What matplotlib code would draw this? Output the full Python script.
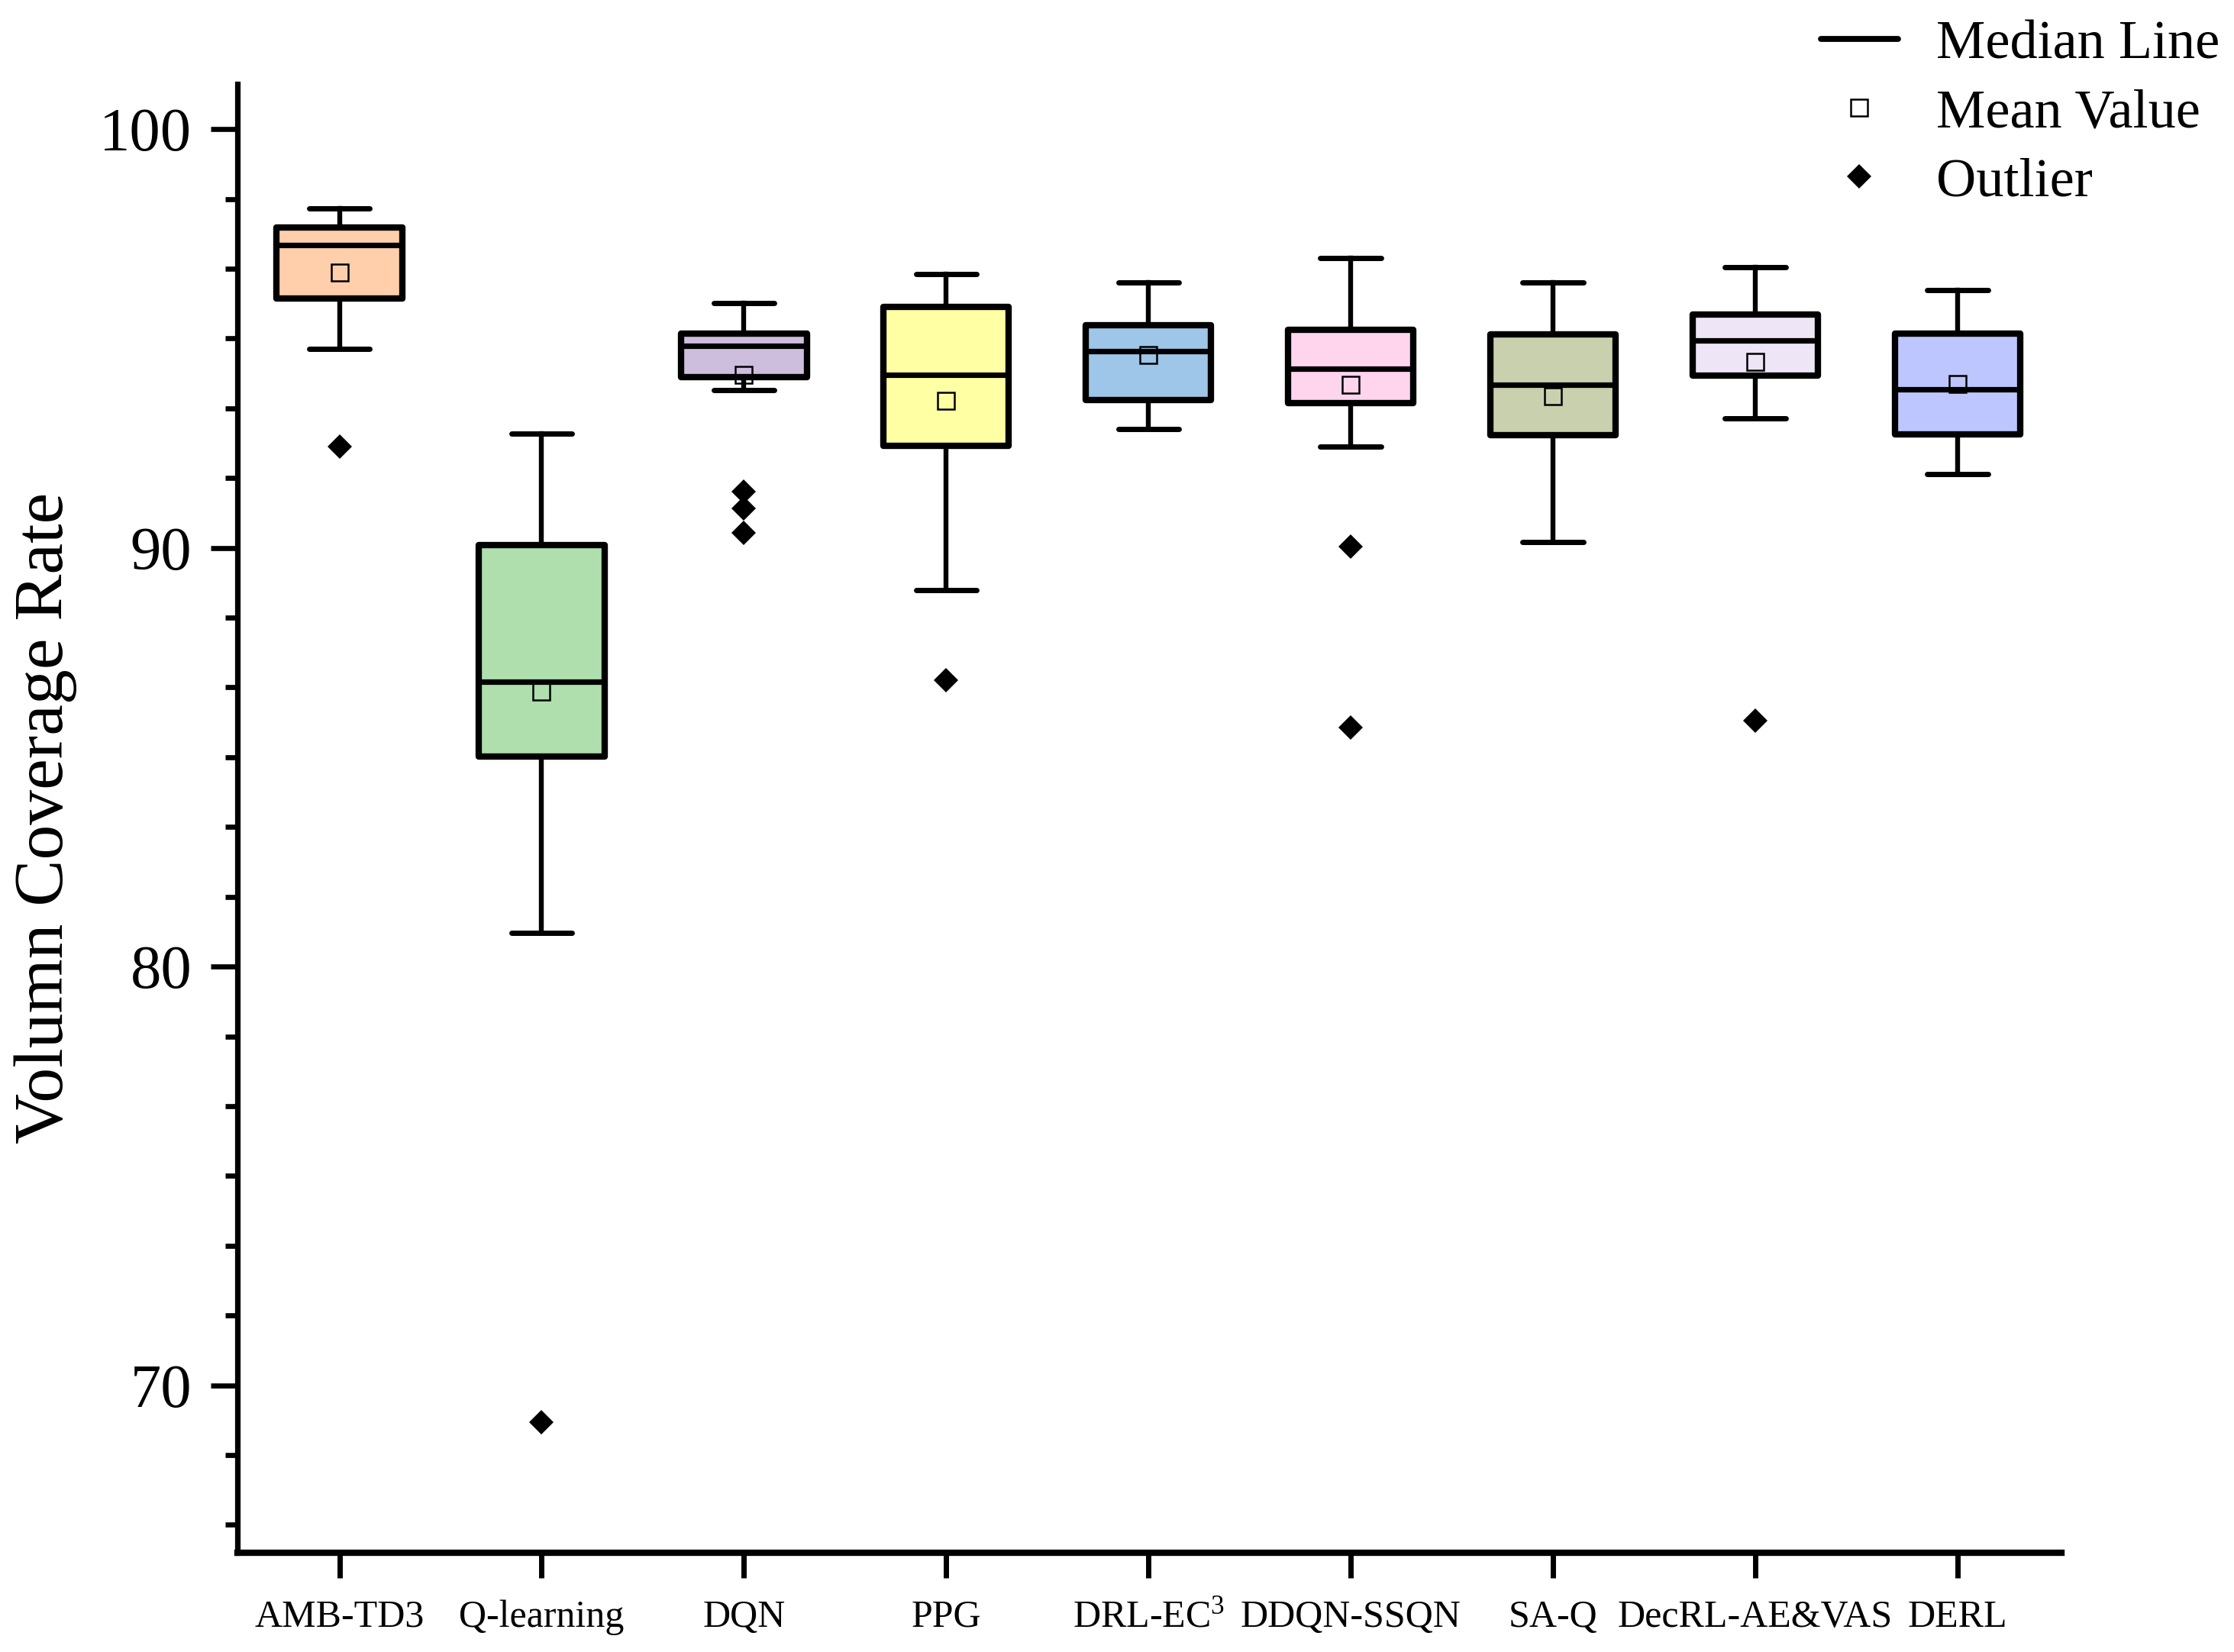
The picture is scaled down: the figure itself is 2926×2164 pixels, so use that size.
import matplotlib
matplotlib.use("Agg")
import matplotlib.pyplot as plt
from matplotlib.ticker import MultipleLocator
from matplotlib.lines import Line2D

plt.rcParams['font.family'] = ['Liberation Serif', 'DejaVu Serif']
plt.rcParams['mathtext.fontset'] = 'custom'
plt.rcParams['mathtext.rm'] = 'Liberation Serif'
plt.rcParams['mathtext.it'] = 'Liberation Serif:italic'

categories = ['AMB-TD3', 'Q-learning', 'DQN', 'PPG', r'DRL-EC$^{\mathrm{3}}$',
              'DDQN-SSQN', 'SA-Q', 'DecRL-AE&VAS', 'DERL']
whisker_low = [94.76, 80.80, 93.77, 88.99, 92.83, 92.42, 90.14, 93.09, 91.77]
q1          = [95.96, 85.02, 94.07, 92.44, 93.53, 93.46, 92.69, 94.11, 92.71]
medians     = [97.24, 86.80, 94.82, 94.13, 94.69, 94.27, 93.90, 94.95, 93.79]
means       = [96.57, 86.57, 94.13, 93.51, 94.60, 93.89, 93.63, 94.44, 93.91]
q3          = [97.66, 90.06, 95.12, 95.75, 95.31, 95.20, 95.10, 95.57, 95.12]
whisker_high = [98.10, 92.73, 95.85, 96.54, 96.34, 96.92, 96.34, 96.70, 96.15]
outliers = [[92.41], [69.12], [91.35, 90.95, 90.36], [86.84], [],
            [90.03, 85.71], [], [85.87], []]
colors = ['#FFCFAB', '#AEDFAD', '#CEBEDE', '#FFFFA3', '#9DC6E8',
          '#FFD5EE', '#C8D0AE', '#EEE5F6', '#BEC6FF']

stats = []
for i in range(len(categories)):
    stats.append(dict(med=medians[i], q1=q1[i], q3=q3[i],
                      whislo=whisker_low[i], whishi=whisker_high[i],
                      mean=means[i], fliers=outliers[i], label=categories[i]))

fig = plt.figure(figsize=(14.63, 10.82), dpi=200)
ax = fig.add_axes([0.1063, 0.0601, 0.8165, 0.8891])

positions = list(range(len(categories)))
bp = ax.bxp(stats, positions=positions, widths=0.62, capwidths=0.30,
            patch_artist=True, showmeans=True, showfliers=True,
            boxprops=dict(linewidth=3.0, edgecolor='black'),
            whiskerprops=dict(linewidth=2.3, color='black'),
            capprops=dict(linewidth=2.5, color='black', solid_capstyle='round'),
            medianprops=dict(linewidth=2.6, color='black'),
            meanprops=dict(marker='s', markersize=7.6, markerfacecolor='none',
                           markeredgecolor='black', markeredgewidth=0.9),
            flierprops=dict(marker='D', markersize=8.4, markerfacecolor='black',
                            markeredgecolor='black', markeredgewidth=0.0))
for patch, c in zip(bp['boxes'], colors):
    patch.set_facecolor(c)
    patch.set_joinstyle('round')

ax.set_xlim(-0.504, 8.514)
ax.set_ylim(66.0, 101.08)
ax.set_xticks(positions)
ax.set_xticklabels(categories, fontsize=18)
ax.yaxis.set_major_locator(MultipleLocator(10))
ax.yaxis.set_minor_locator(MultipleLocator(10 / 6))
ax.tick_params(axis='y', which='major', labelsize=29, length=12.5, width=2.4,
               pad=9, direction='out')
ax.tick_params(axis='y', which='minor', length=5.8, width=2.4, direction='out')
ax.tick_params(axis='x', which='major', length=12, width=2.5, pad=10,
               direction='out')

for s in ['top', 'right']:
    ax.spines[s].set_visible(False)
ax.spines['left'].set_linewidth(2.6)
ax.spines['bottom'].set_linewidth(3.0)

ax.set_ylabel('Volumn Coverage Rate', fontsize=33)
ax.yaxis.set_label_coords(-0.088, 0.5)

handles = [Line2D([0], [0], color='black', linewidth=2.8, solid_capstyle='round'),
           Line2D([0], [0], linestyle='none', marker='s', markersize=7.6,
                  markerfacecolor='none', markeredgecolor='black',
                  markeredgewidth=0.9),
           Line2D([0], [0], linestyle='none', marker='D', markersize=8.4,
                  markerfacecolor='black', markeredgewidth=0)]
labels = ['Median Line', 'Mean Value', 'Outlier']
fig.legend(handles, labels, loc='upper left', bbox_to_anchor=(0.815, 0.988),
           frameon=False, fontsize=26, handlelength=1.4, handletextpad=0.7,
           labelspacing=0.34, borderpad=0, borderaxespad=0)

fig.savefig('out.png', dpi=200)
